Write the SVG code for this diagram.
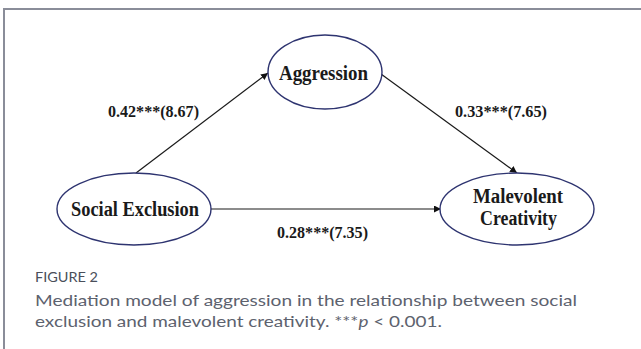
<svg xmlns="http://www.w3.org/2000/svg" width="641" height="349" viewBox="0 0 641 349">
  <defs>
    <marker id="ah" viewBox="0 0 10 10" refX="10" refY="5" markerWidth="7" markerHeight="7" markerUnits="userSpaceOnUse" orient="auto">
      <path d="M0,0 L10,5 L0,10 z" fill="#111"/>
    </marker>
    <style>
      .node { fill: #fff; stroke: #2e3470; stroke-width: 1.4; }
      .nt { font-family: "Liberation Serif", "Times New Roman", serif; font-weight: bold; font-size: 20px; fill: #1a1a1a; }
      .lbl { font-family: "Liberation Serif", "Times New Roman", serif; font-weight: bold; font-size: 16px; fill: #1a1a1a; }
      .edge { stroke: #1a1a1a; stroke-width: 1.2; fill: none; marker-end: url(#ah); }
      .cap { font-family: Lato, "Open Sans", sans-serif; font-size: 16px; font-weight: 400; fill: #5d626e; }
      .fig { font-family: Lato, "Open Sans", sans-serif; font-size: 13.5px; fill: #4a4f5a; }
      .frame { stroke: #8a8d99; stroke-width: 2; fill: none; }
    </style>
  </defs>
  <rect width="641" height="349" fill="#fff"/>
  <path class="frame" d="M4,349 L4,9 L641,9"/>

  <g id="connectors">
    <line class="edge" x1="136" y1="173" x2="268" y2="73"/>
    <line class="edge" x1="381" y1="74" x2="517" y2="173"/>
    <line class="edge" x1="211" y1="209" x2="441" y2="209"/>
  </g>

  <g id="aggression">
    <ellipse class="node" cx="325" cy="72" rx="57" ry="37"/>
    <text class="nt" x="279" y="80" font-size="21" textLength="89" lengthAdjust="spacingAndGlyphs">Aggression</text>
  </g>
  <g id="social-exclusion">
    <ellipse class="node" cx="134" cy="209" rx="77" ry="36"/>
    <text class="nt" x="71" y="216" textLength="128" lengthAdjust="spacingAndGlyphs">Social Exclusion</text>
  </g>
  <g id="malevolent-creativity">
    <ellipse class="node" cx="517" cy="209" rx="77" ry="36"/>
    <text class="nt" x="473" y="203" textLength="90" lengthAdjust="spacingAndGlyphs">Malevolent</text>
    <text class="nt" x="480" y="225" textLength="77" lengthAdjust="spacingAndGlyphs">Creativity</text>
  </g>

  <g id="labels">
    <text class="lbl" x="108" y="117" textLength="91" lengthAdjust="spacingAndGlyphs">0.42***(8.67)</text>
    <text class="lbl" x="455" y="117" textLength="92" lengthAdjust="spacingAndGlyphs">0.33***(7.65)</text>
    <text class="lbl" x="277" y="238" textLength="91" lengthAdjust="spacingAndGlyphs">0.28***(7.35)</text>
  </g>

  <g id="caption">
    <text class="fig" x="35" y="282" textLength="63" lengthAdjust="spacingAndGlyphs">FIGURE 2</text>
    <text class="cap" x="35" y="306" textLength="542" lengthAdjust="spacingAndGlyphs">Mediation model of aggression in the relationship between social</text>
    <text class="cap" x="35" y="327" textLength="407" lengthAdjust="spacingAndGlyphs">exclusion and malevolent creativity. ***<tspan font-style="italic">p</tspan> &lt; 0.001.</text>
  </g>
</svg>
